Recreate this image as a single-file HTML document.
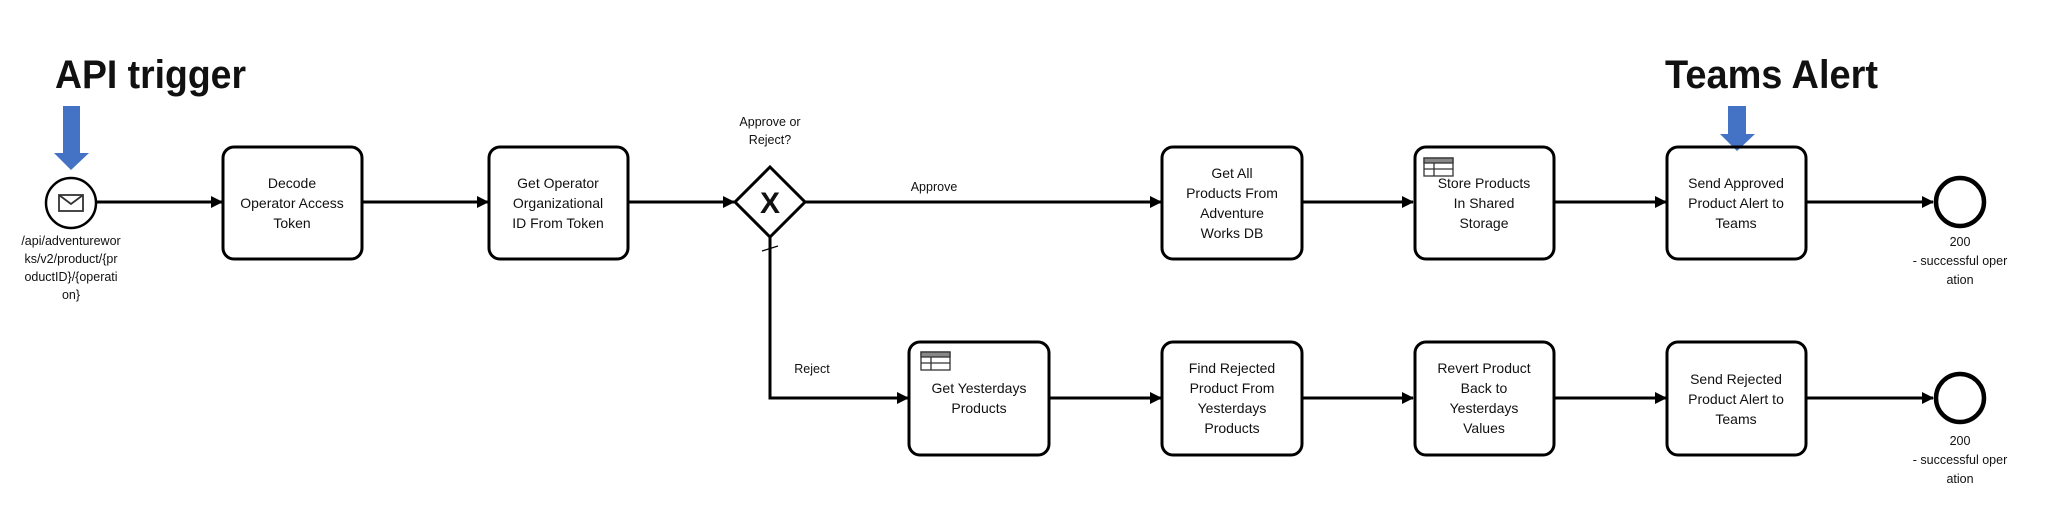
<!DOCTYPE html>
<html><head><meta charset="utf-8"><style>
html,body{margin:0;padding:0;background:#fff;}
svg{display:block;}
text{font-family:"Liberation Sans",Arial,sans-serif;fill:#111;}
.b{font-size:14px;text-anchor:middle;}
.s{font-size:12.5px;text-anchor:middle;}
</style></head><body>
<svg width="2049" height="528" viewBox="0 0 2049 528" xmlns="http://www.w3.org/2000/svg">
<defs>
<marker id="ar" markerWidth="12" markerHeight="12" refX="11" refY="6" orient="auto" markerUnits="userSpaceOnUse">
<path d="M0,0 L12,6 L0,12 Z" fill="#000"/>
</marker>
</defs>
<!-- titles -->
<text x="55" y="88" textLength="191" lengthAdjust="spacingAndGlyphs" style="font-size:40px;font-weight:bold;font-family:'Liberation Sans',sans-serif">API trigger</text>
<text x="1665" y="88" textLength="213" lengthAdjust="spacingAndGlyphs" style="font-size:40px;font-weight:bold;font-family:'Liberation Sans',sans-serif">Teams Alert</text>
<!-- blue arrows -->
<rect x="63" y="106" width="17" height="48" fill="#4472C4"/>
<polygon points="54,153 89,153 71,170" fill="#4472C4"/>
<rect x="1728" y="106" width="18" height="30" fill="#4472C4"/>
<polygon points="1720,134 1755,134 1737,151" fill="#4472C4"/>

<g stroke="#000" stroke-width="3" fill="none">
<line x1="97" y1="202" x2="222" y2="202" marker-end="url(#ar)"/>
<line x1="362" y1="202" x2="488" y2="202" marker-end="url(#ar)"/>
<line x1="628" y1="202" x2="734" y2="202" marker-end="url(#ar)"/>
<line x1="805" y1="202" x2="1161" y2="202" marker-end="url(#ar)"/>
<line x1="1302" y1="202" x2="1413" y2="202" marker-end="url(#ar)"/>
<line x1="1554" y1="202" x2="1666" y2="202" marker-end="url(#ar)"/>
<line x1="1806" y1="202" x2="1933" y2="202" marker-end="url(#ar)"/>
<polyline points="770,237 770,398 908,398" marker-end="url(#ar)"/>
<line x1="1049" y1="398" x2="1161" y2="398" marker-end="url(#ar)"/>
<line x1="1302" y1="398" x2="1413" y2="398" marker-end="url(#ar)"/>
<line x1="1554" y1="398" x2="1666" y2="398" marker-end="url(#ar)"/>
<line x1="1806" y1="398" x2="1933" y2="398" marker-end="url(#ar)"/>
<rect x="223" y="147" width="139" height="112" rx="11"/>
<rect x="489" y="147" width="139" height="112" rx="11"/>
<rect x="1162" y="147" width="140" height="112" rx="11"/>
<rect x="1415" y="147" width="139" height="112" rx="11"/>
<rect x="1667" y="147" width="139" height="112" rx="11"/>
<rect x="909" y="342" width="140" height="113" rx="11"/>
<rect x="1162" y="342" width="140" height="113" rx="11"/>
<rect x="1415" y="342" width="139" height="113" rx="11"/>
<rect x="1667" y="342" width="139" height="113" rx="11"/>
<circle cx="1960" cy="202" r="24" stroke-width="4.5"/>
<circle cx="1960" cy="398" r="24" stroke-width="4.5"/>
</g>
<circle cx="71" cy="203" r="25" fill="#fff" stroke="#000" stroke-width="2.5"/>
<rect x="59" y="195" width="24" height="16" fill="none" stroke="#333" stroke-width="1.8"/>
<polyline points="59,195 71,204 83,195" fill="none" stroke="#333" stroke-width="1.8"/>
<polygon points="770,167 805,202 770,237 735,202" fill="#fff" stroke="#000" stroke-width="3"/>
<text x="770" y="213" style="font-size:30px;font-weight:bold;text-anchor:middle">X</text>
<line x1="762" y1="251" x2="778" y2="246" stroke="#000" stroke-width="1.2"/>
<g stroke="#333" stroke-width="1.3">
<rect x="921" y="352" width="29" height="18" fill="#fff"/>
<rect x="921" y="352" width="29" height="5" fill="#888"/>
<line x1="921" y1="363" x2="950" y2="363"/><line x1="931" y1="357" x2="931" y2="370"/>
<rect x="1424" y="158" width="29" height="18" fill="#fff"/>
<rect x="1424" y="158" width="29" height="5" fill="#888"/>
<line x1="1424" y1="169" x2="1453" y2="169"/><line x1="1434" y1="163" x2="1434" y2="176"/>
</g>
<text class="b" x="292" y="188">Decode</text><text class="b" x="292" y="208">Operator Access</text><text class="b" x="292" y="228">Token</text>
<text class="b" x="558" y="188">Get Operator</text><text class="b" x="558" y="208">Organizational</text><text class="b" x="558" y="228">ID From Token</text>
<text class="b" x="1232" y="178">Get All</text><text class="b" x="1232" y="198">Products From</text><text class="b" x="1232" y="218">Adventure</text><text class="b" x="1232" y="238">Works DB</text>
<text class="b" x="1484" y="188">Store Products</text><text class="b" x="1484" y="208">In Shared</text><text class="b" x="1484" y="228">Storage</text>
<text class="b" x="1736" y="188">Send Approved</text><text class="b" x="1736" y="208">Product Alert to</text><text class="b" x="1736" y="228">Teams</text>
<text class="b" x="979" y="393">Get Yesterdays</text><text class="b" x="979" y="413">Products</text>
<text class="b" x="1232" y="373">Find Rejected</text><text class="b" x="1232" y="393">Product From</text><text class="b" x="1232" y="413">Yesterdays</text><text class="b" x="1232" y="433">Products</text>
<text class="b" x="1484" y="373">Revert Product</text><text class="b" x="1484" y="393">Back to</text><text class="b" x="1484" y="413">Yesterdays</text><text class="b" x="1484" y="433">Values</text>
<text class="b" x="1736" y="384">Send Rejected</text><text class="b" x="1736" y="404">Product Alert to</text><text class="b" x="1736" y="424">Teams</text>
<text class="s" x="71" y="245">/api/adventurewor</text>
<text class="s" x="71" y="263">ks/v2/product/{pr</text>
<text class="s" x="71" y="281">oductID}/{operati</text>
<text class="s" x="71" y="299">on}</text>
<text class="s" x="770" y="126">Approve or</text>
<text class="s" x="770" y="144">Reject?</text>
<text class="s" x="934" y="191">Approve</text>
<text class="s" x="812" y="373">Reject</text>
<text class="s" x="1960" y="246">200</text><text class="s" x="1960" y="265">- successful oper</text><text class="s" x="1960" y="284">ation</text>
<text class="s" x="1960" y="445">200</text><text class="s" x="1960" y="464">- successful oper</text><text class="s" x="1960" y="483">ation</text>
</svg>
</body></html>
